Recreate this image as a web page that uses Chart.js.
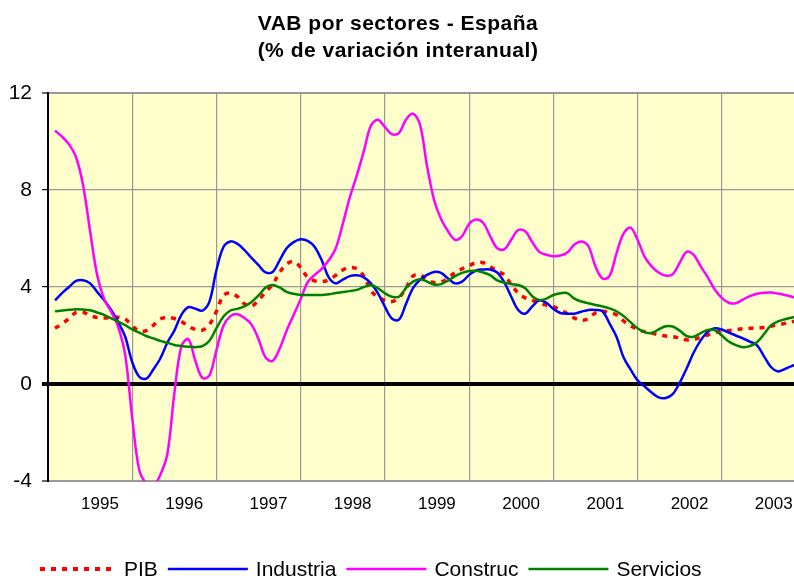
<!DOCTYPE html>
<html><head><meta charset="utf-8">
<script src="https://cdn.jsdelivr.net/npm/chart.js@4.4.1/dist/chart.umd.min.js"></script>
<style>
html,body{margin:0;padding:0;background:#fff;overflow:hidden;width:794px;height:576px}
#wrap{position:absolute;left:0;top:0;width:819px;height:576px}
</style>
</head><body><div id="wrap"><canvas id="c" width="819" height="576"></canvas></div>
<script>
const titleLines = ['VAB por sectores - España', '(% de variación interanual)'];
const yearLabels = ['1995','1996','1997','1998','1999','2000','2001','2002','2003'];
const yTicks = [-4, 0, 4, 8, 12];
const seriesNames = ['PIB', 'Industria', 'Construc', 'Servicios'];

const pib = [2.3,2.48,2.7,2.95,2.96,2.82,2.74,2.72,2.74,2.75,
2.68,2.4,2.18,2.2,2.42,2.68,2.75,2.7,2.58,2.38,
2.25,2.22,2.45,3.0,3.65,3.75,3.6,3.3,3.22,3.45,
3.8,4.1,4.6,4.95,5.05,4.8,4.4,4.25,4.22,4.3,
4.48,4.7,4.8,4.75,4.45,3.85,3.58,3.45,3.4,3.55,
3.95,4.45,4.5,4.3,4.18,4.2,4.36,4.6,4.75,4.88,
5.0,5.0,4.84,4.66,4.5,4.1,3.75,3.55,3.45,3.35,
3.25,3.19,3.05,2.9,2.72,2.62,2.7,2.93,3.0,2.95,
2.85,2.6,2.4,2.25,2.16,2.1,2.03,1.98,1.95,1.9,
1.82,1.85,1.92,2.02,2.12,2.18,2.2,2.24,2.28,2.3,
2.3,2.33,2.38,2.44,2.5,2.57,2.62];

const industria = [3.45,3.75,4.0,4.25,4.28,4.15,3.8,3.45,3.05,2.55,
1.95,0.9,0.3,0.22,0.6,1.05,1.7,2.2,2.85,3.17,
3.1,3.03,3.4,4.7,5.65,5.88,5.78,5.52,5.2,4.9,
4.6,4.62,5.1,5.6,5.85,5.97,5.9,5.65,5.1,4.4,
4.15,4.3,4.45,4.48,4.4,4.15,3.75,3.19,2.7,2.65,
3.3,3.95,4.3,4.5,4.62,4.58,4.35,4.15,4.22,4.5,
4.68,4.72,4.72,4.6,4.2,3.6,3.05,2.9,3.2,3.45,
3.35,3.1,2.93,2.9,2.9,2.98,3.05,3.05,3.0,2.5,
1.95,1.1,0.6,0.15,-0.1,-0.35,-0.55,-0.58,-0.42,0.05,
0.65,1.3,1.8,2.15,2.3,2.25,2.12,2.0,1.88,1.75,
1.6,1.15,0.7,0.52,0.62,0.75,0.85];

const construc = [10.45,10.2,9.88,9.35,8.2,6.3,4.5,3.5,2.98,2.36,
1.2,-1.4,-3.55,-4.1,-4.2,-3.75,-2.9,-0.4,1.55,1.85,
0.95,0.25,0.35,1.4,2.4,2.8,2.88,2.72,2.45,1.85,
1.1,0.95,1.45,2.2,2.85,3.5,4.2,4.5,4.75,5.1,
5.6,6.6,7.7,8.6,9.6,10.65,10.9,10.6,10.3,10.35,
10.9,11.15,10.7,9.0,7.6,6.8,6.3,5.95,6.1,6.6,
6.78,6.65,6.1,5.6,5.55,5.95,6.35,6.3,5.85,5.45,
5.33,5.27,5.3,5.42,5.75,5.88,5.68,4.85,4.35,4.45,
5.39,6.2,6.45,5.95,5.25,4.85,4.6,4.47,4.52,5.0,
5.45,5.32,4.85,4.4,3.9,3.55,3.35,3.33,3.48,3.62,
3.72,3.76,3.77,3.73,3.67,3.6,3.52];

const servicios = [3.0,3.03,3.06,3.08,3.07,3.04,2.95,2.85,2.71,2.57,
2.43,2.25,2.12,1.98,1.88,1.78,1.7,1.61,1.57,1.54,
1.52,1.56,1.78,2.3,2.78,3.03,3.1,3.2,3.38,3.65,
3.98,4.08,3.98,3.8,3.72,3.67,3.67,3.67,3.67,3.7,
3.75,3.79,3.83,3.88,4.0,4.08,3.95,3.74,3.6,3.6,
3.95,4.22,4.32,4.22,4.1,4.12,4.26,4.45,4.58,4.66,
4.67,4.6,4.49,4.27,4.18,4.12,4.08,3.95,3.62,3.46,
3.52,3.67,3.74,3.75,3.52,3.4,3.33,3.26,3.2,3.12,
3.0,2.8,2.55,2.3,2.14,2.1,2.25,2.38,2.37,2.2,
1.98,1.95,2.1,2.23,2.22,2.0,1.75,1.6,1.52,1.56,
1.72,2.05,2.42,2.58,2.67,2.74,2.78];

// monthly observations; first one is month 1 counted from the start of 1995
const FIRST_MONTH = 1;
const MONTHS_PER_YEAR = 12;
const FONT = "'Liberation Sans', Arial, sans-serif";

const toPoints = arr => arr.map((v, i) => ({ x: FIRST_MONTH + i, y: v }));

const styles = [
  { color: '#FF0000', width: 3.5, dash: [5, 6], order: 4 },
  { color: '#0000FF', width: 2.5, dash: [], order: 3 },
  { color: '#FF00FF', width: 2.5, dash: [], order: 2 },
  { color: '#008000', width: 2.5, dash: [], order: 1 }
];
const seriesData = [pib, industria, construc, servicios];

const datasets = seriesData.map((arr, k) => ({
  label: seriesNames[k],
  data: toPoints(arr),
  borderColor: styles[k].color,
  backgroundColor: styles[k].color,
  borderWidth: styles[k].width,
  borderDash: styles[k].dash,
  pointRadius: 0,
  tension: 0.35,
  fill: false,
  order: styles[k].order
}));

const bgPlugin = {
  id: 'bg',
  beforeDraw(chart) {
    const { ctx, chartArea: a } = chart;
    ctx.save();
    ctx.fillStyle = '#FFFFFF';
    ctx.fillRect(0, 0, chart.width, chart.height);
    ctx.fillStyle = '#FFFFCC';
    ctx.fillRect(a.left, a.top, a.right - a.left, a.bottom - a.top);
    ctx.restore();
  }
};

const textPlugin = {
  id: 'texts',
  afterDraw(chart) {
    const ctx = chart.ctx;
    ctx.save();
    ctx.fillStyle = '#000';
    ctx.font = 'bold 21px ' + FONT;
    if ('letterSpacing' in ctx) ctx.letterSpacing = '0.5px';
    ctx.textAlign = 'center';
    ctx.textBaseline = 'alphabetic';
    ctx.fillText(titleLines[0], 398, 30);
    ctx.fillText(titleLines[1], 398, 57);
    if ('letterSpacing' in ctx) ctx.letterSpacing = '0px';
    ctx.font = '21px ' + FONT;
    ctx.textAlign = 'left';
    const ly = 569;
    let x = 40;
    chart.data.datasets.forEach((ds, k) => {
      const len = k === 0 ? 76 : 80;
      ctx.beginPath();
      ctx.strokeStyle = ds.borderColor;
      ctx.lineWidth = k === 0 ? 4 : 2.5;
      ctx.setLineDash(k === 0 ? [5, 6] : []);
      ctx.moveTo(x, ly);
      ctx.lineTo(x + len, ly);
      ctx.stroke();
      ctx.setLineDash([]);
      x += len + 8;
      ctx.fillStyle = '#000';
      ctx.fillText(ds.label, x, 576);
      x += ctx.measureText(ds.label).width + 10;
    });
    ctx.restore();
  }
};

new Chart(document.getElementById('c'), {
  type: 'line',
  data: { datasets },
  plugins: [bgPlugin, textPlugin],
  options: {
    responsive: false,
    animation: false,
    devicePixelRatio: 1,
    layout: { padding: { top: 93, left: 0, right: 0, bottom: 55 } },
    plugins: { legend: { display: false }, title: { display: false }, tooltip: { enabled: false } },
    scales: {
      x: {
        type: 'linear',
        min: 0,
        max: yearLabels.length * MONTHS_PER_YEAR,
        afterBuildTicks: s => {
          s.ticks = yearLabels.map((_, k) => ({ value: k * MONTHS_PER_YEAR }))
            .concat([{ value: yearLabels.length * MONTHS_PER_YEAR }]);
        },
        afterFit: s => { s.height = 40; },
        ticks: {
          callback: (v, i) => yearLabels[i] || '',
          labelOffset: 52,
          padding: 13,
          autoSkip: false,
          maxRotation: 0,
          color: '#000',
          font: { family: FONT, size: 17 }
        },
        grid: { color: '#999999', lineWidth: 1.2, drawTicks: false },
        border: { display: true, color: '#999999', width: 2 }
      },
      y: {
        min: -4,
        max: 12,
        afterBuildTicks: s => { s.ticks = yTicks.map(v => ({ value: v })); },
        afterFit: s => { s.width = 48; },
        ticks: { color: '#000', padding: 10, font: { family: FONT, size: 21 } },
        grid: {
          color: c => (c.tick && c.tick.value === 0) ? '#000' : '#999999',
          lineWidth: c => (c.tick && c.tick.value === 0) ? 4 : ((c.tick && (c.tick.value === 12 || c.tick.value === -4)) ? 2 : 1.2),
          tickColor: '#000',
          tickLength: 6,
          tickWidth: c => (c.tick && c.tick.value === 0) ? 4 : 1.2
        },
        border: { display: true, color: '#000', width: 2 }
      }
    }
  }
});
</script>
</body></html>
